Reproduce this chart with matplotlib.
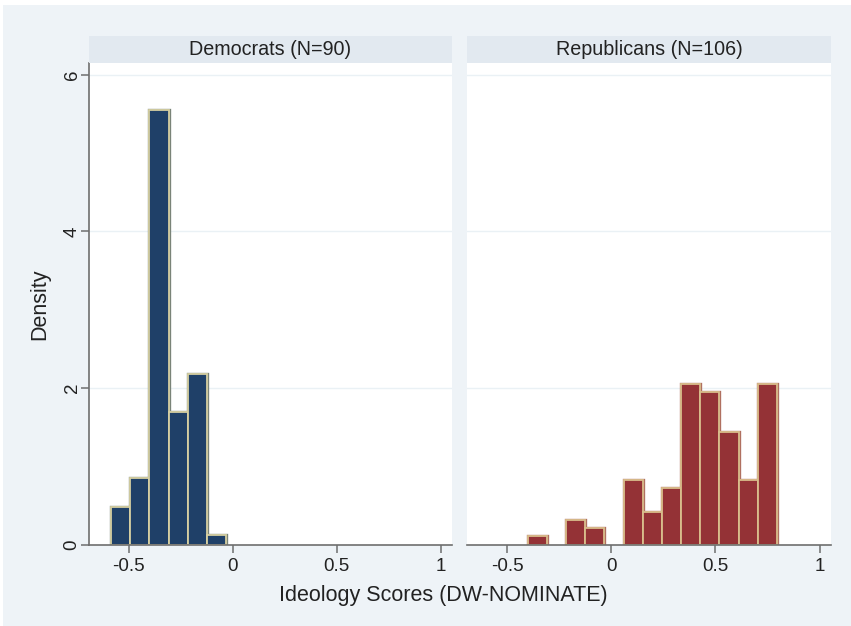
import numpy as np
import matplotlib
matplotlib.use("Agg")
import matplotlib.pyplot as plt
from matplotlib.patches import Rectangle

plt.rcParams['font.family'] = ['Liberation Sans', 'DejaVu Sans']

# Shared histogram bins (DW-NOMINATE first dimension)
bin_start = -0.585
bin_end = 0.796
n_bins = 15

# Member counts per bin
dem_counts = [4, 7, 46, 14, 18, 1, 0, 0, 0, 0, 0, 0, 0, 0, 0]
rep_counts = [0, 0, 1, 0, 3, 2, 0, 8, 4, 7, 20, 19, 14, 8, 20]

panel_titles = ["Democrats (N=90)", "Republicans (N=106)"]
x_ticks = [-0.5, 0, 0.5, 1]
x_tick_labels = ["-0.5", "0", "0.5", "1"]
y_ticks = [0, 2, 4, 6]
y_tick_labels = ["0", "2", "4", "6"]
x_title = "Ideology Scores (DW-NOMINATE)"
y_title = "Density"

bg = "#EEF3F7"
strip_bg = "#E2E9F0"
grid_col = "#EAF1F5"
dem_fill, dem_edge, dem_outline = "#1F4068", "#D6D0A2", "#7A8478"
rep_fill, rep_edge, rep_outline = "#943236", "#D9BE8C", "#B07060"
text_col = "#222222"
axis_col = "#6E6E6E"

W, H = 851, 626
fig = plt.figure(figsize=(W / 100, H / 100), dpi=100)
fig.patch.set_facecolor("white")
fig.add_artist(Rectangle((3 / W, 0), 1, 1 - 5 / H, transform=fig.transFigure,
                         facecolor=bg, edgecolor="none", zorder=-10))

edges = np.linspace(bin_start, bin_end, n_bins + 1)
width = edges[1] - edges[0]


def px_axes(x0, x1, y_top, y_bot):
    return fig.add_axes([x0 / W, 1 - y_bot / H, (x1 - x0) / W, (y_bot - y_top) / H])


plot_top, plot_bot = 63, 544.5
panels = [(89, 452), (467, 831)]
data = [(dem_counts, dem_fill, dem_edge, dem_outline),
        (rep_counts, rep_fill, rep_edge, rep_outline)]

for i, ((x0, x1), (counts, fc, ec, oc), title) in enumerate(zip(panels, data, panel_titles)):
    ax = px_axes(x0, x1, plot_top, plot_bot)
    counts = np.asarray(counts, dtype=float)
    density = counts / (counts.sum() * width)
    mask = counts > 0
    # thin dark outline under a pale inner border
    ax.bar(edges[:-1][mask], density[mask], width=width, align="edge",
           color=fc, edgecolor=oc, linewidth=2.4, zorder=3)
    ax.bar(edges[:-1][mask], density[mask], width=width, align="edge",
           color=fc, edgecolor=ec, linewidth=1.3, zorder=4)
    ax.set_xlim(-0.692, 1.055)
    ax.set_ylim(0, 6.15)
    ax.set_facecolor("white")
    for yv in y_ticks[1:]:
        ax.axhline(yv, color=grid_col, linewidth=1.0, zorder=1)
    for side in ["top", "right"]:
        ax.spines[side].set_visible(False)
    ax.spines["bottom"].set_color(axis_col)
    ax.spines["bottom"].set_linewidth(1.2)
    ax.spines["bottom"].set_zorder(5)
    ax.set_xticks(x_ticks)
    ax.set_xticklabels(x_tick_labels, fontsize=13.5, color=text_col)
    ax.tick_params(axis="x", length=6, width=1.1, color=axis_col, pad=4)
    if i == 0:
        ax.spines["left"].set_color(axis_col)
        ax.spines["left"].set_linewidth(1.2)
        ax.set_yticks(y_ticks)
        ax.set_yticklabels(y_tick_labels, fontsize=13.5, color=text_col,
                           rotation=90, va="center")
        ax.tick_params(axis="y", length=6, width=1.1, color=axis_col, pad=0)
        ax.set_ylabel(y_title, fontsize=15.5, color=text_col, labelpad=10)
    else:
        ax.spines["left"].set_visible(False)
        ax.set_yticks([])

    # Panel header strip
    sax = px_axes(x0, x1, 36, 63)
    sax.set_facecolor(strip_bg)
    sax.set_xticks([])
    sax.set_yticks([])
    for s in sax.spines.values():
        s.set_visible(False)
    sax.text(0.5, 0.5, title, ha="center", va="center", fontsize=14.2,
             color=text_col, transform=sax.transAxes)

fig.text(443 / W, 1 - 595 / H, x_title, ha="center", va="center",
         fontsize=15.5, color=text_col)

fig.savefig("out.png", dpi=100, facecolor=fig.get_facecolor())
